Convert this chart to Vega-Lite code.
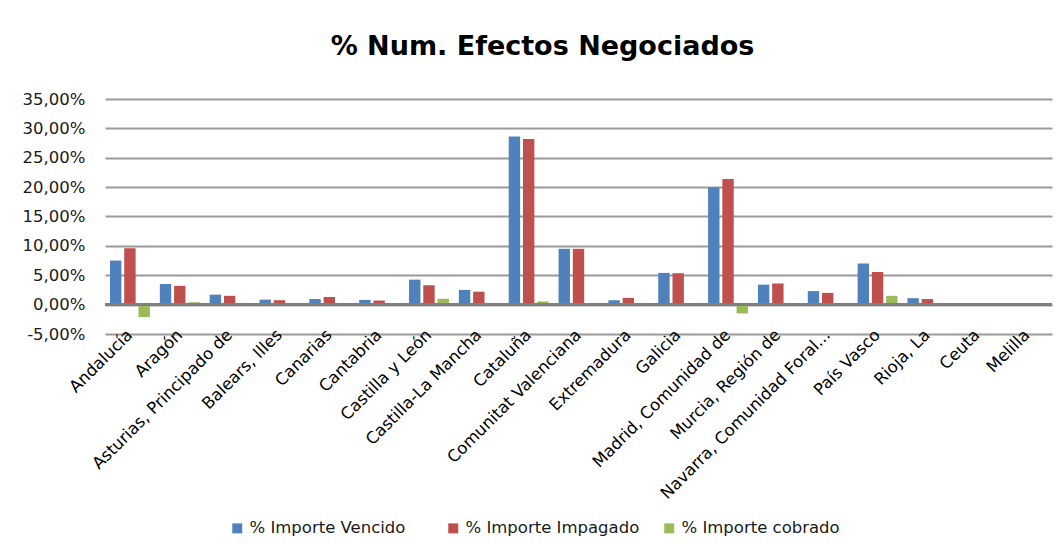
{
  "$schema": "https://vega.github.io/schema/vega-lite/v6.json",
  "width": 947,
  "height": 235,
  "autosize": "none",
  "padding": {"left": 105, "top": 99, "right": 12, "bottom": 217},
  "background": "white",
  "title": {
    "text": "% Num. Efectos Negociados",
    "font": "DejaVu Sans",
    "fontSize": 27,
    "fontWeight": "bold",
    "color": "#000000",
    "anchor": "middle",
    "dx": -36,
    "offset": 30
  },
  "data": {
    "values": [
      {"region": "Andalucía", "serie": "% Importe Vencido", "value": 0.075},
      {"region": "Andalucía", "serie": "% Importe Impagado", "value": 0.096},
      {"region": "Andalucía", "serie": "% Importe cobrado", "value": -0.021},
      {"region": "Aragón", "serie": "% Importe Vencido", "value": 0.035},
      {"region": "Aragón", "serie": "% Importe Impagado", "value": 0.032},
      {"region": "Aragón", "serie": "% Importe cobrado", "value": 0.004},
      {"region": "Asturias, Principado de", "serie": "% Importe Vencido", "value": 0.017},
      {"region": "Asturias, Principado de", "serie": "% Importe Impagado", "value": 0.015},
      {"region": "Asturias, Principado de", "serie": "% Importe cobrado", "value": 0.001},
      {"region": "Balears, Illes", "serie": "% Importe Vencido", "value": 0.0085},
      {"region": "Balears, Illes", "serie": "% Importe Impagado", "value": 0.0075},
      {"region": "Balears, Illes", "serie": "% Importe cobrado", "value": 0.0},
      {"region": "Canarias", "serie": "% Importe Vencido", "value": 0.0095},
      {"region": "Canarias", "serie": "% Importe Impagado", "value": 0.013},
      {"region": "Canarias", "serie": "% Importe cobrado", "value": -0.001},
      {"region": "Cantabria", "serie": "% Importe Vencido", "value": 0.008},
      {"region": "Cantabria", "serie": "% Importe Impagado", "value": 0.007},
      {"region": "Cantabria", "serie": "% Importe cobrado", "value": 0.0},
      {"region": "Castilla y León", "serie": "% Importe Vencido", "value": 0.0425},
      {"region": "Castilla y León", "serie": "% Importe Impagado", "value": 0.033},
      {"region": "Castilla y León", "serie": "% Importe cobrado", "value": 0.01},
      {"region": "Castilla-La Mancha", "serie": "% Importe Vencido", "value": 0.025},
      {"region": "Castilla-La Mancha", "serie": "% Importe Impagado", "value": 0.022},
      {"region": "Castilla-La Mancha", "serie": "% Importe cobrado", "value": 0.002},
      {"region": "Cataluña", "serie": "% Importe Vencido", "value": 0.286},
      {"region": "Cataluña", "serie": "% Importe Impagado", "value": 0.282},
      {"region": "Cataluña", "serie": "% Importe cobrado", "value": 0.0055},
      {"region": "Comunitat Valenciana", "serie": "% Importe Vencido", "value": 0.095},
      {"region": "Comunitat Valenciana", "serie": "% Importe Impagado", "value": 0.095},
      {"region": "Comunitat Valenciana", "serie": "% Importe cobrado", "value": 0.0},
      {"region": "Extremadura", "serie": "% Importe Vencido", "value": 0.0075},
      {"region": "Extremadura", "serie": "% Importe Impagado", "value": 0.0115},
      {"region": "Extremadura", "serie": "% Importe cobrado", "value": 0.0},
      {"region": "Galicia", "serie": "% Importe Vencido", "value": 0.054},
      {"region": "Galicia", "serie": "% Importe Impagado", "value": 0.0535},
      {"region": "Galicia", "serie": "% Importe cobrado", "value": 0.0},
      {"region": "Madrid, Comunidad de", "serie": "% Importe Vencido", "value": 0.1995},
      {"region": "Madrid, Comunidad de", "serie": "% Importe Impagado", "value": 0.214},
      {"region": "Madrid, Comunidad de", "serie": "% Importe cobrado", "value": -0.015},
      {"region": "Murcia, Región de", "serie": "% Importe Vencido", "value": 0.034},
      {"region": "Murcia, Región de", "serie": "% Importe Impagado", "value": 0.036},
      {"region": "Murcia, Región de", "serie": "% Importe cobrado", "value": 0.0},
      {"region": "Navarra, Comunidad Foral de", "serie": "% Importe Vencido", "value": 0.023},
      {"region": "Navarra, Comunidad Foral de", "serie": "% Importe Impagado", "value": 0.02},
      {"region": "Navarra, Comunidad Foral de", "serie": "% Importe cobrado", "value": 0.002},
      {"region": "País Vasco", "serie": "% Importe Vencido", "value": 0.07},
      {"region": "País Vasco", "serie": "% Importe Impagado", "value": 0.0555},
      {"region": "País Vasco", "serie": "% Importe cobrado", "value": 0.015},
      {"region": "Rioja, La", "serie": "% Importe Vencido", "value": 0.011},
      {"region": "Rioja, La", "serie": "% Importe Impagado", "value": 0.0095},
      {"region": "Rioja, La", "serie": "% Importe cobrado", "value": 0.0},
      {"region": "Ceuta", "serie": "% Importe Vencido", "value": 0.0},
      {"region": "Ceuta", "serie": "% Importe Impagado", "value": 0.0},
      {"region": "Ceuta", "serie": "% Importe cobrado", "value": 0.0},
      {"region": "Melilla", "serie": "% Importe Vencido", "value": 0.0},
      {"region": "Melilla", "serie": "% Importe Impagado", "value": 0.0},
      {"region": "Melilla", "serie": "% Importe cobrado", "value": 0.0}
    ]
  },
  "layer": [
    {
      "mark": {"type": "bar"},
      "encoding": {
        "x": {
          "field": "region",
          "type": "nominal",
          "sort": null,
          "scale": {"paddingInner": 0.2, "paddingOuter": 0.1},
          "axis": {
            "title": null,
            "labelAngle": -45,
            "labelAlign": "right",
            "labelBaseline": "middle",
            "labelFont": "DejaVu Sans",
            "labelFontSize": 16.5,
            "labelColor": "#000000",
            "labelPadding": -2,
            "labelLimit": 400,
            "labelOverlap": false,
            "labelExpr": "datum.label == 'Navarra, Comunidad Foral de' ? 'Navarra, Comunidad Foral...' : datum.label",
            "ticks": false,
            "domain": false,
            "grid": false
          }
        },
        "xOffset": {
          "field": "serie",
          "type": "nominal",
          "sort": ["% Importe Vencido", "% Importe Impagado", "% Importe cobrado"],
          "scale": {"paddingInner": 0.2}
        },
        "y": {
          "field": "value",
          "type": "quantitative",
          "scale": {"domain": [-0.05, 0.35], "nice": false, "zero": false},
          "axis": {
            "title": null,
            "values": [-0.05, 0, 0.05, 0.1, 0.15, 0.2, 0.25, 0.3, 0.35],
            "tickCount": 20,
            "labelExpr": "replace(replace(format(datum.value, '.2%'), '.', ','), '\u2212', '-')",
            "labelOverlap": false,
            "labelFont": "DejaVu Sans",
            "labelFontSize": 16.5,
            "labelColor": "#1a1a1a",
            "labelPadding": 20,
            "ticks": false,
            "domain": false,
            "grid": true,
            "gridColor": "#9a9a9a",
            "gridWidth": 1.8
          }
        },
        "color": {
          "field": "serie",
          "type": "nominal",
          "sort": ["% Importe Vencido", "% Importe Impagado", "% Importe cobrado"],
          "scale": {
            "domain": ["% Importe Vencido", "% Importe Impagado", "% Importe cobrado"],
            "range": ["#4F81BD", "#C0504D", "#9BBB59"]
          },
          "legend": {
            "title": null,
            "orient": "none",
            "legendX": 124,
            "legendY": 421,
            "direction": "horizontal",
            "columns": 3,
            "gridAlign": "all",
            "columnPadding": 21,
            "symbolType": "square",
            "symbolSize": 100,
            "symbolStrokeWidth": 0,
            "labelFont": "DejaVu Sans",
            "labelFontSize": 16.5,
            "labelColor": "#1a1a1a",
            "labelLimit": 400
          }
        }
      }
    },
    {
      "mark": {"type": "rule", "color": "#7f7f7f", "strokeWidth": 2},
      "encoding": {"y": {"datum": 0}}
    }
  ],
  "config": {"view": {"stroke": null}, "axis": {"labelOverlap": false}}
}
